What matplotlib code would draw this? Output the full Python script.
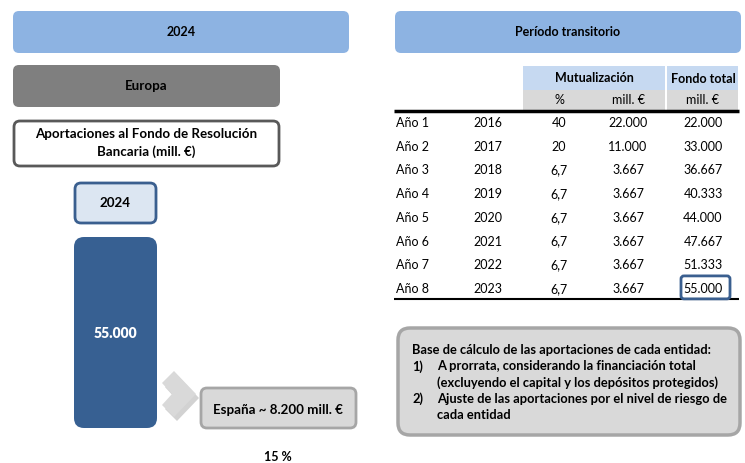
import matplotlib
matplotlib.use("Agg")
import matplotlib.pyplot as plt
from matplotlib.patches import FancyBboxPatch, Polygon

plt.rcParams['font.family'] = ['Lato', 'DejaVu Sans']

# table data
row_labels = ["Año 1", "Año 2", "Año 3", "Año 4", "Año 5", "Año 6", "Año 7", "Año 8"]
years = ["2016", "2017", "2018", "2019", "2020", "2021", "2022", "2023"]
mut_pct = ["40", "20", "6,7", "6,7", "6,7", "6,7", "6,7", "6,7"]
mut_mill = ["22.000", "11.000", "3.667", "3.667", "3.667", "3.667", "3.667", "3.667"]
fondo_total = ["22.000", "33.000", "36.667", "40.333", "44.000", "47.667", "51.333", "55.000"]

europe_total = "55.000"
spain_label = "España ~ 8.200 mill. €"
spain_share = "15 %"

note_lines = [
    ("", "Base de cálculo de las aportaciones de cada entidad:"),
    ("1)", "A prorrata, considerando la financiación total"),
    ("", "(excluyendo el capital y los depósitos protegidos)"),
    ("2)", "Ajuste de las aportaciones por el nivel de riesgo de"),
    ("", "cada entidad"),
]

W, H = 745, 463
fig = plt.figure(figsize=(W / 100, H / 100), dpi=100)
ax = fig.add_axes([0, 0, 1, 1])
ax.set_xlim(0, W)
ax.set_ylim(H, 0)
ax.axis('off')


def rbox(x0, y0, x1, y1, fc, ec='none', lw=0, r=6, z=1):
    p = FancyBboxPatch((x0 + r, y0 + r), x1 - x0 - 2 * r, y1 - y0 - 2 * r,
                       boxstyle=f"round,pad={r}", fc=fc, ec=ec, lw=lw, zorder=z)
    ax.add_patch(p)


fs = 9       # table text
fb = 9.6     # box labels
# top headers
rbox(13, 11, 349, 53, '#8DB3E2')
ax.text(181, 32, "2024", ha='center', va='center', fontsize=fs, fontweight='bold')
rbox(395, 11, 741, 53, '#8DB3E2')
ax.text(568, 32, "Período transitorio", ha='center', va='center', fontsize=fs, fontweight='bold')

# left column
rbox(13, 65, 280, 107, '#7F7F7F')
ax.text(146, 86, "Europa", ha='center', va='center', fontsize=fb, fontweight='bold')
rbox(14, 121, 279, 166, 'white', '#595959', 2)
ax.text(146, 143, "Aportaciones al Fondo de Resolución\nBancaria (mill. €)", ha='center',
        va='center', fontsize=fb, fontweight='bold', linespacing=1.45)
rbox(75, 183, 156, 223, '#DCE6F2', '#3A5F8F', 2)
ax.text(115, 203, "2024", ha='center', va='center', fontsize=fb, fontweight='bold')
rbox(74, 237, 157, 428, '#376092', r=10)
ax.text(115, 333, europe_total, ha='center', va='center', fontsize=10, fontweight='heavy', color='white')

# chevron with shadow
chev = [(162, 383), (174, 371), (196, 394), (174, 417), (162, 405), (172, 394)]
ax.add_patch(Polygon([(x + 3, y + 4) for x, y in chev], fc='#A6A6A6', ec='none', alpha=0.5, zorder=1))
ax.add_patch(Polygon(chev, fc='#D9D9D9', ec='none', zorder=2))

rbox(201, 388, 356, 428, '#D9D9D9', '#A6A6A6', 2)
ax.text(278, 410, spain_label, ha='center', va='center', fontsize=fb, fontweight='bold')
ax.text(278, 457, spain_share, ha='center', va='center', fontsize=fs, fontweight='bold')

# table header
ax.add_patch(plt.Rectangle((523, 66), 142, 24, fc='#C6D9F1', ec='none'))
ax.add_patch(plt.Rectangle((667, 66), 71, 24, fc='#C6D9F1', ec='none'))
ax.add_patch(plt.Rectangle((523, 90), 142, 20, fc='#D9D9D9', ec='none'))
ax.add_patch(plt.Rectangle((667, 90), 71, 20, fc='#D9D9D9', ec='none'))
ax.text(594, 78, "Mutualización", ha='center', va='center', fontsize=fs, fontweight='bold')
ax.text(703, 79, "Fondo total", ha='center', va='center', fontsize=fs, fontweight='bold')
ax.text(559, 100, "%", ha='center', va='center', fontsize=fs)
ax.text(628, 100, "mill. €", ha='center', va='center', fontsize=fs)
ax.text(703, 100, "mill. €", ha='center', va='center', fontsize=fs)
ax.plot([394, 739], [110.5, 110.5], color='black', lw=2.5, solid_capstyle='butt')
ax.plot([394, 739], [299, 299], color='black', lw=1.5, solid_capstyle='butt')

row_y0, row_dy = 123, 23.7
for i in range(len(row_labels)):
    y = row_y0 + i * row_dy
    ax.text(396, y, row_labels[i], ha='left', va='center', fontsize=fs)
    ax.text(488, y, years[i], ha='center', va='center', fontsize=fs)
    ax.text(559, y, mut_pct[i], ha='center', va='center', fontsize=fs)
    ax.text(628, y, mut_mill[i], ha='center', va='center', fontsize=fs)
    ax.text(703, y, fondo_total[i], ha='center', va='center', fontsize=fs)

last_y = row_y0 + (len(row_labels) - 1) * row_dy
rbox(681, last_y - 13, 730, last_y + 10, 'none', '#3A5F8F', 2, r=3, z=3)

# note box
fn = 9.3
rbox(398, 328, 740, 435, '#D9D9D9', '#A6A6A6', 2.5, r=12)
for j, (num, line) in enumerate(note_lines):
    y = 350 + j * 16.2
    if num:
        ax.text(412, y, num, ha='left', va='center', fontsize=fn, fontweight='bold')
    x = 412 if j == 0 else 437
    ax.text(x, y, line, ha='left', va='center', fontsize=fn, fontweight='bold')

fig.savefig("out.png", dpi=100)
